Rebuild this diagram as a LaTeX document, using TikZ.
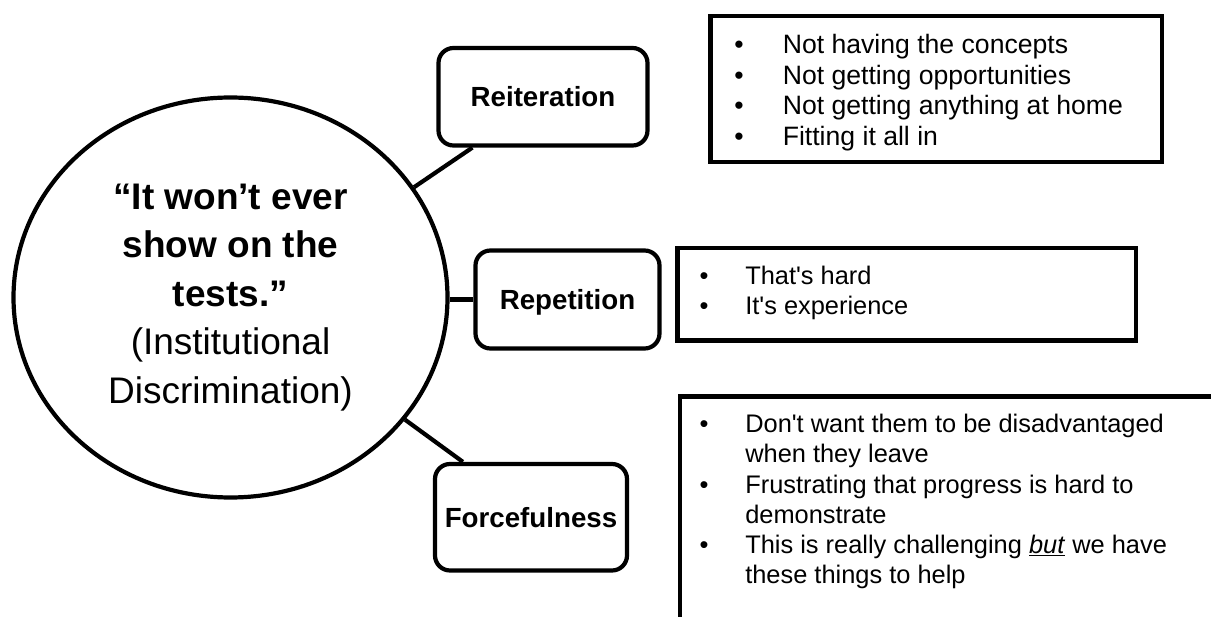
\documentclass[tikz,border=0pt]{standalone}
\usepackage{fontspec}
\setmainfont{Liberation Sans}[Ligatures=TeXOff]
\usetikzlibrary{shapes.geometric}

% bullet set in a fixed-width box, and the matching indent for wrapped lines
\newcommand{\blt}[1]{\makebox[#1][l]{\textbullet}}
\newcommand{\gap}[1]{\hspace*{#1}}

\begin{document}
\begin{tikzpicture}[
  x=1pt, y=-1pt,
  line width=4.2pt,
  hub/.style={ellipse, draw, minimum width=434pt, minimum height=400pt,
    inner sep=0pt, align=center, font=\fontsize{37}{48.6}\selectfont},
  theme/.style={draw, rounded corners=15pt, inner sep=0pt,
    font=\bfseries\fontsize{27.7}{33}\selectfont,
    text height=19.8pt, text depth=0pt},
  panel/.style={draw, line join=miter, inner sep=0pt},
  listtext/.style={inner sep=0pt, anchor=base west},
  link/.style={draw, line cap=butt}
]
\useasboundingbox (0,0) rectangle (1211,617);
\clip (0,0) rectangle (1211,617);

% central idea
\node[hub] (hub) at (230.5,297.5)
  {\textbf{“It won’t ever}\\\textbf{show on the}\\\textbf{tests.”}\\(Institutional\\Discrimination)};

% themes
\node[theme, minimum width=209pt, minimum height=97.5pt] (reit) at (543,96.75) {Reiteration};
\node[theme, minimum width=184pt, minimum height=98pt] (rep) at (567.5,299.5) {Repetition};
\node[theme, minimum width=192pt, minimum height=106.5pt] (force) at (531,517.25) {Forcefulness};

% connectors
\draw[link] (hub.31) -- ([xshift=36pt]reit.south west);
\draw[link] (rep.west) -- (rep.west -| hub.east);
\draw[link] (hub.-35) -- ([xshift=30pt]force.north west);

% evidence panels
\node[panel, minimum width=451.5pt, minimum height=146pt] (reitpanel) at (936.25,89) {};
\node[panel, minimum width=458.5pt, minimum height=92.5pt] (reppanel) at (906.75,294.25) {};
\node[panel, minimum width=600pt, minimum height=300pt, anchor=north west] (forcepanel) at (677.5,394.5) {};

\node[listtext, font=\fontsize{26.6}{30.5}\selectfont] (reitlist) at (732.2,54)
  {\begin{tabular}[t]{@{}l@{}}
   \blt{48.5pt}Not having the concepts\\
   \blt{48.5pt}Not getting opportunities\\
   \blt{48.5pt}Not getting anything at home\\
   \blt{48.5pt}Fitting it all in
   \end{tabular}};

\node[listtext, font=\fontsize{25.4}{30}\selectfont] (replist) at (697.4,285)
  {\begin{tabular}[t]{@{}l@{}}
   \blt{45.8pt}That's hard\\
   \blt{45.8pt}It's experience
   \end{tabular}};

\node[listtext, font=\fontsize{25.4}{30.3}\selectfont] (forcelist) at (697.4,432.5)
  {\begin{tabular}[t]{@{}l@{}}
   \blt{45.8pt}Don't want them to be disadvantaged\\
   \gap{45.8pt}when they leave\\
   \blt{45.8pt}Frustrating that progress is hard to\\
   \gap{45.8pt}demonstrate\\
   \blt{45.8pt}This is really challenging \underline{\textit{but}} we have\\
   \gap{45.8pt}these things to help
   \end{tabular}};
\end{tikzpicture}
\end{document}
